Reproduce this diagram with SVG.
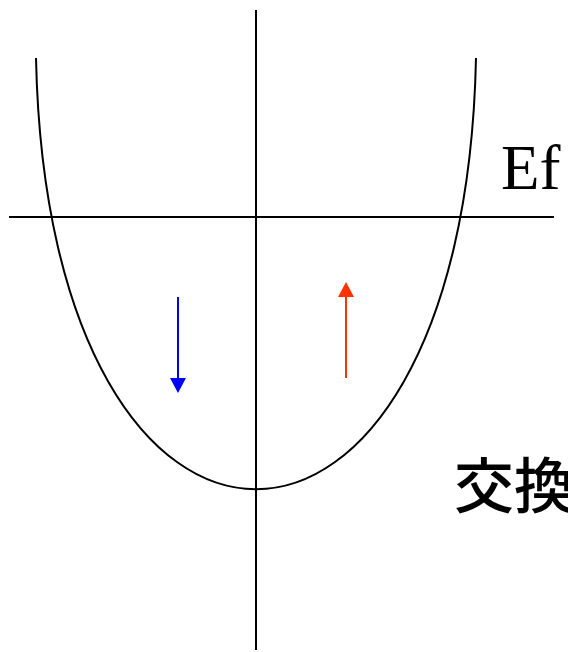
<svg xmlns="http://www.w3.org/2000/svg" width="568" height="652" viewBox="0 0 568 652">
<style>
.ln{stroke:#000;stroke-width:2;fill:none}
.ef{font-family:"Liberation Serif","Times New Roman",serif;font-size:63px;fill:#000}
.cjk{font-family:"Noto Sans CJK JP","Noto Sans CJK SC",sans-serif;font-size:60px;font-weight:500;fill:#000}
</style>
<rect width="568" height="652" fill="#fff"/>
<g id="axes">
<line class="ln" x1="256" y1="10" x2="256" y2="650"/>
<line class="ln" x1="9" y1="217" x2="554" y2="217"/>
</g>
<g id="band">
<path class="ln" d="M36,58 C48,633 464,633 476,58"/>
</g>
<g id="connectors">
<line x1="178" y1="297" x2="178" y2="380" stroke="#0000ff" stroke-width="2"/>
<polygon points="170,378 186,378 178,393" fill="#0000ff"/>
<line x1="346" y1="378" x2="346" y2="295" stroke="#ff3300" stroke-width="2"/>
<polygon points="338,297 354,297 346,282" fill="#ff3300"/>
</g>
<g id="label-ef"><text class="ef" x="501" y="189">Ef</text></g>
<g id="label-exchange"><text class="cjk" x="454" y="508">交換</text></g>
</svg>
